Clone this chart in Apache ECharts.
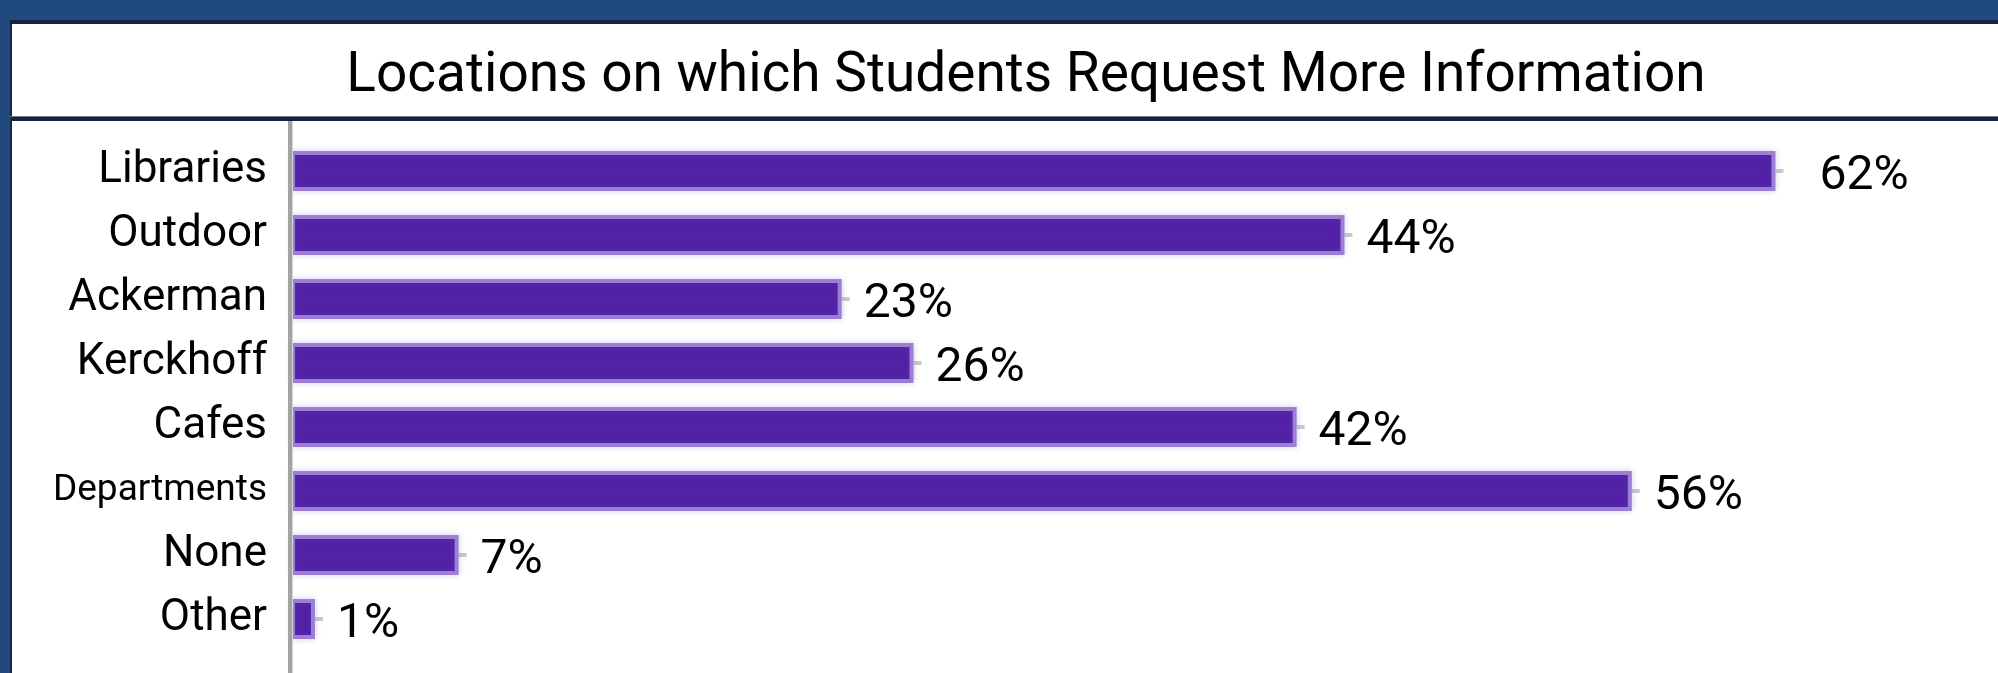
<!DOCTYPE html>
<html>
<head>
<meta charset="utf-8">
<script src="https://cdn.jsdelivr.net/npm/echarts@6/dist/echarts.min.js"></script>
<style>
html,body{margin:0;padding:0;background:#ffffff;}
#chart{width:1998px;height:673px;}
</style>
</head>
<body>
<div id="chart"></div>
<script>
const titleText = 'Locations on which Students Request More Information';
const categories = ['Libraries', 'Outdoor', 'Ackerman', 'Kerckhoff', 'Cafes', 'Departments', 'None', 'Other'];
const values = [62, 44, 23, 26, 42, 56, 7, 1];
const valueLabels = ['62%', '44%', '23%', '26%', '42%', '56%', '7%', '1%'];

const FONT = 'Roboto';
const chart = echarts.init(document.getElementById('chart'), null, {renderer: 'canvas'});

const seriesData = values.map((v, i) => ({
  value: v,
  label: {distance: categories[i] === 'Libraries' ? 44 : 22}
}));

chart.setOption({
  backgroundColor: '#ffffff',
  animation: false,
  title: {
    text: titleText,
    left: 1021,
    textAlign: 'center',
    top: 45,
    textStyle: {fontFamily: FONT, fontSize: 55, fontWeight: 'normal', color: '#000000'}
  },
  grid: {left: 291, right: 31, top: 139, bottom: 22, containLabel: false},
  xAxis: {
    type: 'value', min: 0, max: 70,
    axisLine: {show: false}, axisTick: {show: false},
    axisLabel: {show: false}, splitLine: {show: false}
  },
  yAxis: {
    type: 'category', data: categories, inverse: true,
    axisLine: {show: false}, axisTick: {show: false}, splitLine: {show: false},
    axisLabel: {
      margin: 24, color: '#000000', fontFamily: FONT, fontSize: 44,
      formatter: function (v) { return v.length > 9 ? '{s|' + v + '}' : v; },
      rich: {s: {fontFamily: FONT, fontSize: 37, color: '#000000'}}
    }
  },
  series: [{
    type: 'scatter',
    data: values,
    symbol: 'rect',
    symbolSize: [8, 4],
    symbolOffset: [4, 0],
    itemStyle: {color: '#bdbdbd'},
    z: 1,
    silent: true
  }, {
    type: 'bar',
    data: seriesData,
    barWidth: 40,
    z: 2,
    itemStyle: {
      color: '#5121a6',
      borderColor: '#9b7fd2',
      borderWidth: 4,
      shadowColor: 'rgba(120,80,200,0.25)',
      shadowBlur: 6
    },
    label: {
      show: true, position: 'right',
      color: '#000000', fontFamily: FONT, fontSize: 48, offset: [0, 6],
      formatter: function (p) { return valueLabels[p.dataIndex]; }
    }
  }],
  graphic: [
    {type: 'rect', shape: {x: 0, y: 0, width: 1998, height: 20}, style: {fill: '#204a7d'}, z: 100},
    {type: 'rect', shape: {x: 0, y: 0, width: 10, height: 673}, style: {fill: '#204a7d'}, z: 100},
    {type: 'rect', shape: {x: 10, y: 20, width: 2, height: 653}, style: {fill: '#14253d'}, z: 100},
    {type: 'rect', shape: {x: 10, y: 20, width: 1990, height: 4}, style: {fill: '#14253d'}, z: 100},
    {type: 'rect', shape: {x: 10, y: 116, width: 1990, height: 1}, style: {fill: '#6b7a8e'}, z: 100},
    {type: 'rect', shape: {x: 10, y: 117, width: 1990, height: 4}, style: {fill: '#14253d'}, z: 100},
    {type: 'rect', shape: {x: 288, y: 121, width: 4, height: 552}, style: {fill: '#a3a3a3'}, z: 100},
    {type: 'rect', shape: {x: 292, y: 121, width: 1, height: 552}, style: {fill: '#d4d4d4'}, z: 100}
  ]
});
</script>
</body>
</html>
